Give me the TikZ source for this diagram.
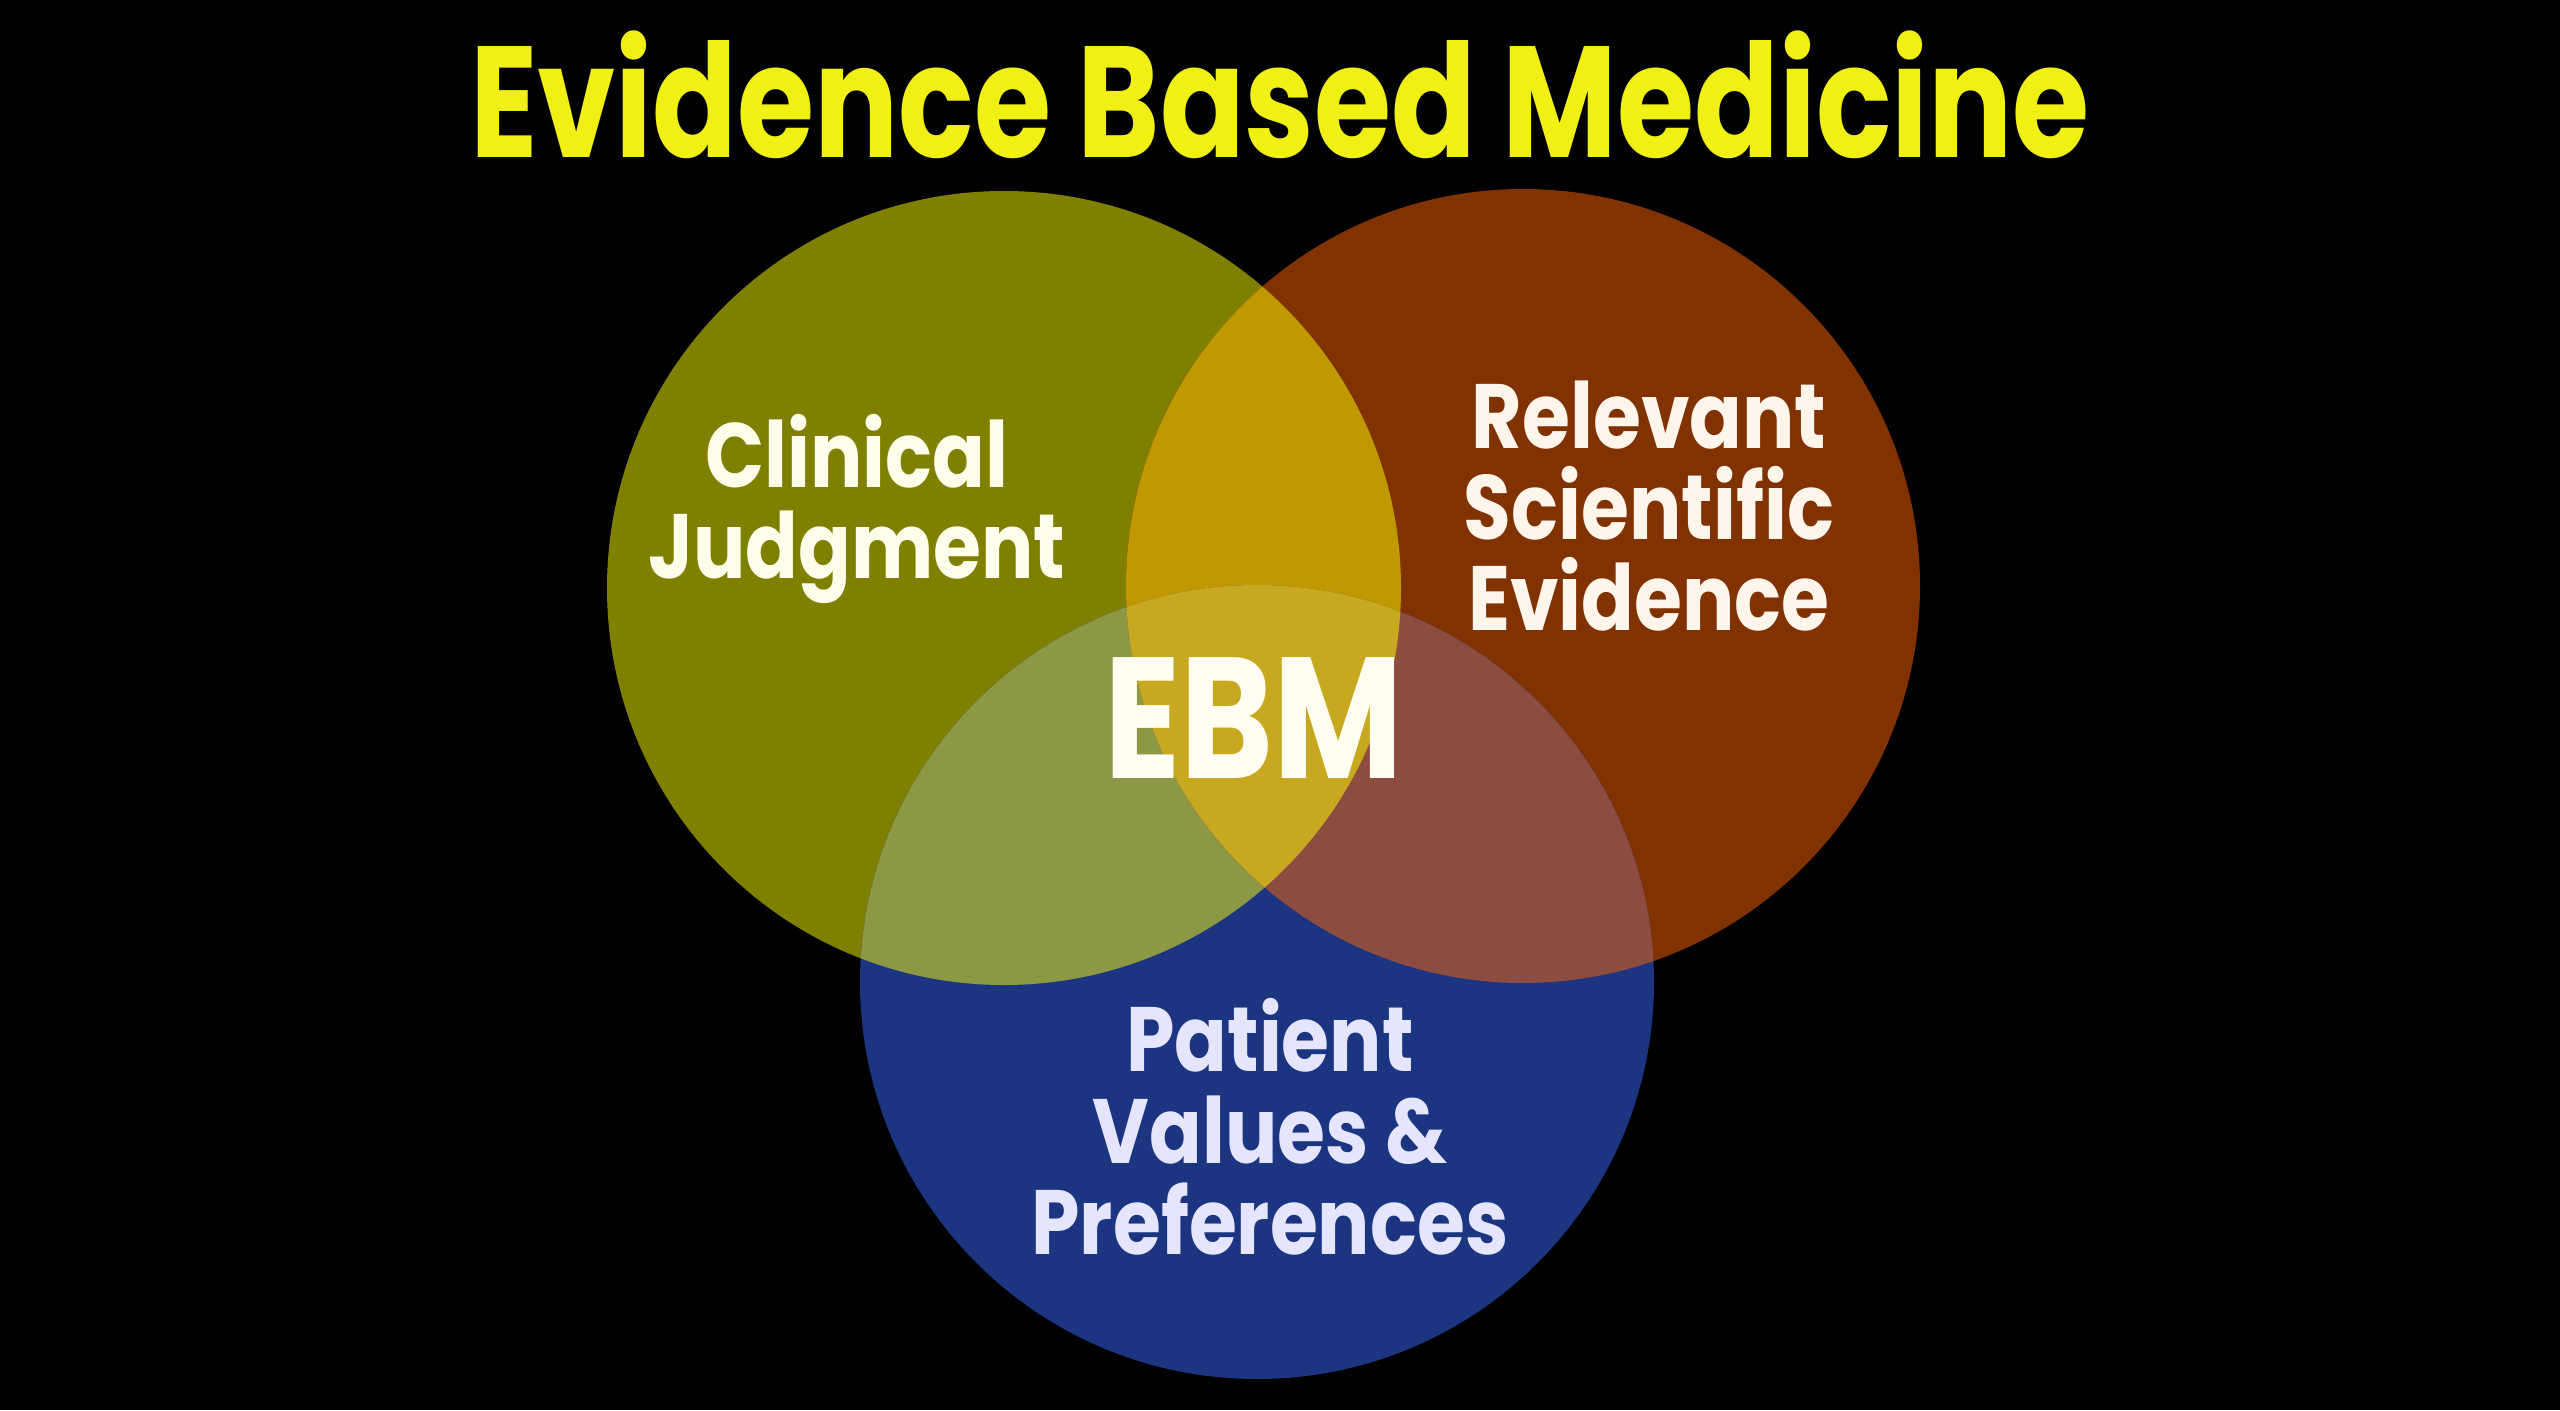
\documentclass[tikz,border=0pt]{standalone}
\usepackage{fontspec}
\newfontfamily\titlefont[FakeStretch=0.79]{Poppins}
\newfontfamily\chalkfont[FakeStretch=0.85]{Poppins}
\newfontfamily\ebmfont[FakeStretch=0.82]{Poppins}

\definecolor{olive}{RGB}{128,128,0}
\definecolor{rust}{RGB}{128,50,0}
\definecolor{navy}{RGB}{27,53,128}
\definecolor{gold}{RGB}{192,152,0}
\definecolor{sage}{RGB}{140,152,68}
\definecolor{clay}{RGB}{140,76,64}
\definecolor{amber}{RGB}{200,168,32}
\definecolor{titleyellow}{RGB}{240,240,20}

\begin{document}
\begin{tikzpicture}[
            label text/.style = {font = \chalkfont\bfseries\fontsize{26}{26}\selectfont, align = center, inner sep = 0pt}%
        ]

        % circle centres and radius
        \def\circL{(10.04, 8.22) circle (3.97)}
        \def\circR{(15.23, 8.24) circle (3.97)}
        \def\circB{(12.57, 4.28) circle (3.97)}

        \fill[black] (0,0) rectangle (25.6,14.1);

        % single sets
        \fill[olive] \circL;
        \fill[rust]  \circR;
        \fill[navy]  \circB;

        % overlaps
        \begin{scope}
            \clip \circL;
            \fill[gold] \circR;
            \fill[sage] \circB;
        \end{scope}
        \begin{scope}
            \clip \circR;
            \fill[clay] \circB;
            \clip \circL;
            \fill[amber] \circB;
        \end{scope}

        \node[label text, font = \titlefont\bfseries\fontsize{45}{45}\selectfont, text = titleyellow]
                               (title) at ( 12.80 , 13.15 ) {Evidence Based Medicine};
        \node[label text, text = white!92!yellow] (cj)  at (  8.57 ,  9.01 ) {Clinical\\Judgment};
        \node[label text, text = white!92!orange] (rse) at ( 16.49 ,  9.04 ) {Relevant\\Scientific\\Evidence};
        \node[label text, font = \ebmfont\bfseries\fontsize{49}{49}\selectfont, text = white!94!yellow]
                               (ebm)   at ( 12.54 ,  6.92 ) {EBM};
        \node[label text, text = white!90!blue]   (pvp) at ( 12.70 ,  2.83 ) {Patient\\Values \&\\Preferences};

    \end{tikzpicture}
\end{document}
